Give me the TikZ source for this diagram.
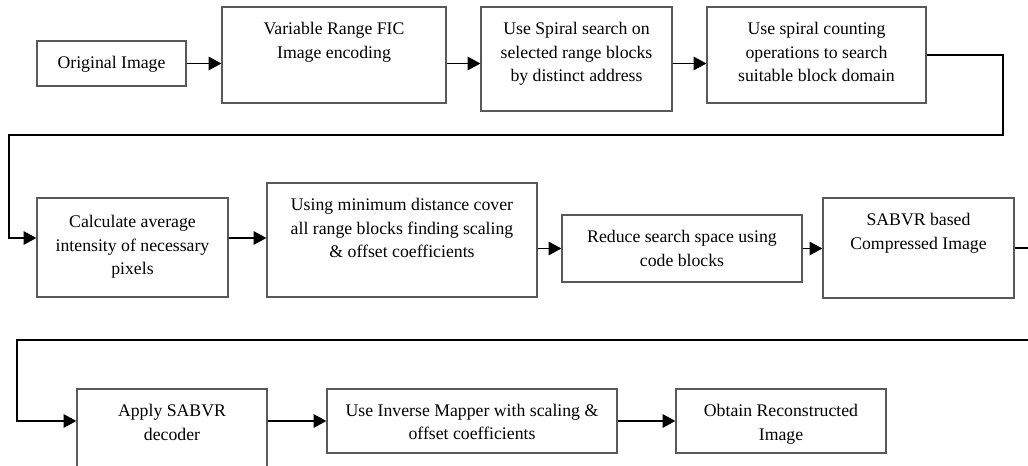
\documentclass[tikz,border=0pt]{standalone}
\usepackage{fontspec}
\setmainfont{Liberation Serif}
\usetikzlibrary{arrows.meta,positioning,fit}

\begin{document}
\begin{tikzpicture}[x=0.75pt,y=-0.75pt,line width=1.1pt,>={Triangle[length=9.5pt,width=10pt]},
  box/.style={draw=black!65,line width=0.9pt,inner sep=0pt},
  txt/.style={align=center,inner sep=0pt,font=\fontsize{13.3}{17.6}\selectfont}]
  \useasboundingbox (0,0) rectangle (1028,466);
  % encoding row
  \node[box,fit={(37,41)(186,86)}] (orig) {};
  \node[txt,below=11.5pt of orig.north] (origT) {Original Image};
  \node[box,fit={(222,7)(446,103)}] (fic) {};
  \node[txt,below=11.5pt of fic.north] (ficT) {Variable Range FIC\\Image encoding};
  \node[box,fit={(481,7)(672,111)}] (spiral) {};
  \node[txt,below=11.5pt of spiral.north] (spiralT) {Use Spiral search on\\selected range blocks\\by distinct address};
  \node[box,fit={(707,7)(926,103)}] (count) {};
  \node[txt,below=11.5pt of count.north] (countT) {Use spiral counting\\operations to search\\suitable block domain};
  % compression row
  \node[box,fit={(37,198)(228,297)}] (avg) {};
  \node[txt,below=13pt of avg.north] (avgT) {Calculate average\\intensity of necessary\\pixels};
  \node[box,fit={(267,183)(537,297)}] (cover) {};
  \node[txt,below=11.5pt of cover.north] (coverT) {Using minimum distance cover\\all range blocks finding scaling\\\& offset coefficients};
  \node[box,fit={(562,215)(802,282)}] (reduce) {};
  \node[txt,below=11.5pt of reduce.north] (reduceT) {Reduce search space using\\code blocks};
  \node[box,fit={(823,198)(1014,298)}] (sabvr) {};
  \node[txt,below=11.5pt of sabvr.north] (sabvrT) {SABVR based\\Compressed Image};
  % decoding row
  \node[box,fit={(77,389)(267,482)}] (apply) {};
  \node[txt,below=11.5pt of apply.north] (applyT) {Apply SABVR\\decoder};
  \node[box,fit={(327,389)(617,453)}] (inverse) {};
  \node[txt,below=11pt of inverse.north] (inverseT) {Use Inverse Mapper with scaling \&\\offset coefficients};
  \node[box,fit={(676,389)(886,453)}] (obtain) {};
  \node[txt,below=11.5pt of obtain.north] (obtainT) {Obtain Reconstructed\\Image};
  % connectors
  \coordinate (k1) at (1003,135); \coordinate (k2) at (9,238);
  \coordinate (k3) at (1040,340); \coordinate (k4) at (17,421);
  \draw[->] (orig) -- (orig -| fic.west);
  \draw[->] (fic.east |- orig) -- (spiral.west |- orig);
  \draw[->] (spiral.east |- orig) -- (count.west |- orig);
  \draw[->] (count.east) -| (k1) -| (k2) -- (k2 -| avg.west);
  \draw[->] (avg.east |- k2) -- (cover.west |- k2);
  \draw[->] (cover.east |- reduce) -- (reduce);
  \draw[->] (reduce) -- (reduce -| sabvr.west);
  \draw[->] (sabvr.east) -| (k3) -| (k4) -- (k4 -| apply.west);
  \draw[->] (apply.east |- inverse) -- (inverse);
  \draw[->] (inverse) -- (obtain);
\end{tikzpicture}
\end{document}
